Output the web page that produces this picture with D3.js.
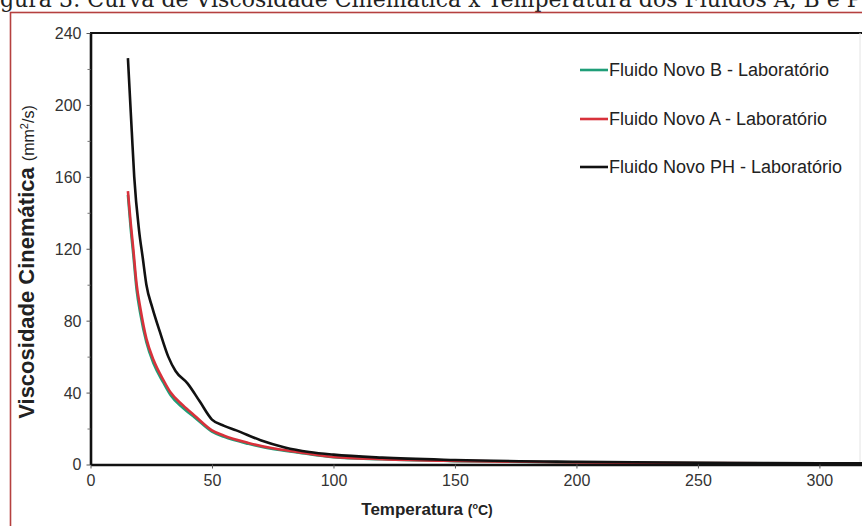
<!DOCTYPE html>
<html><head><meta charset="utf-8">
<script src="https://cdn.jsdelivr.net/npm/d3@7/dist/d3.min.js"></script>
<style>html,body{margin:0;padding:0;background:#fff;overflow:hidden}svg{display:block}</style>
</head><body>
<svg id="c" width="862" height="526"></svg>
<script>
const titleText = "Figura 3: Curva de Viscosidade Cinemática x Temperatura dos Fluidos A, B e PH";
const xTicks = [0, 50, 100, 150, 200, 250, 300];
const yTicks = [0, 40, 80, 120, 160, 200, 240];
const yMinorTicks = [20, 60, 100, 140, 180, 220];
const seriesNames = ["Fluido Novo B - Laboratório", "Fluido Novo A - Laboratório", "Fluido Novo PH - Laboratório"];
const seriesColors = ["#1f9e78", "#d8313b", "#111111"];

const tempB  = [15.4, 16.5, 17.6, 19, 20.5, 23, 26, 30, 33, 38, 43, 50, 55, 65, 75, 85, 100, 120, 150, 200, 250, 300, 320];
const viscB  = [150, 132, 117, 97, 84, 68, 56, 45.5, 38.5, 31.5, 26, 18.3, 15.4, 11.5, 8.6, 6.7, 4.0, 2.9, 1.9, 1.15, 0.75, 0.5, 0.45];
const tempA  = [15.4, 16.5, 17.6, 19, 20.5, 23, 26, 30, 33, 38, 43, 50, 55, 65, 75, 85, 100, 120, 150, 200, 250, 300, 320];
const viscA  = [152, 135, 120, 100, 87, 70, 58, 47, 40, 33, 27, 19, 16, 12, 9, 7, 4.2, 3.0, 2.0, 1.2, 0.8, 0.5, 0.45];
const tempPH = [15.4, 17, 18, 20, 21.5, 23, 25.5, 28.5, 32, 35, 40, 45, 50, 55, 60, 70, 80, 90, 100, 120, 150, 200, 250, 300, 320];
const viscPH = [226, 185, 160, 130, 115, 100, 87, 74, 60, 52, 45, 35, 25, 21.5, 19, 13.5, 9.5, 7, 5.5, 3.8, 2.5, 1.5, 1.0, 0.7, 0.6];

const svg = d3.select("#c");

// page title (clipped at top, as in the document screenshot)
const title = svg.append("text")
  .attr("font-family", "DejaVu Serif")
  .attr("font-size", 20)
  .attr("fill", "#222")
  .attr("y", 7)
  .text(titleText);
const probe = svg.append("text").attr("font-family", "DejaVu Serif").attr("font-size", 20).text("Fi");
const wFi = probe.node().getComputedTextLength();
probe.text(titleText.slice(2, titleText.length - 1));
const wMid = probe.node().getComputedTextLength();
probe.remove();
const fs = 20 * 862 / wMid;
title.attr("font-size", fs).attr("x", -wFi * fs / 20);

// document frame border
svg.append("rect")
  .attr("x", 10.5).attr("y", 12.5).attr("width", 900).attr("height", 600)
  .attr("fill", "none").attr("stroke", "#b5403f").attr("stroke-width", 1.6);

const x = d3.scaleLinear().domain([0, 320]).range([90.5, 868]);
const y = d3.scaleLinear().domain([0, 240]).range([464.5, 33]);

// frame top & right
svg.append("line").attr("x1", 90).attr("x2", 862).attr("y1", y(240)).attr("y2", y(240))
  .attr("stroke", "#111").attr("stroke-width", 2.2);
svg.append("line").attr("x1", 860).attr("x2", 860).attr("y1", y(240)).attr("y2", y(0))
  .attr("stroke", "#e4e4e4").attr("stroke-width", 1);

const line = d3.line().x(d => x(d[0])).y(d => y(d[1])).curve(d3.curveMonotoneX);
const series = [
  d3.zip(tempB, viscB),
  d3.zip(tempA, viscA),
  d3.zip(tempPH, viscPH)
];
series.forEach((s, i) => {
  svg.append("path").datum(s).attr("d", line)
    .attr("fill", "none").attr("stroke", seriesColors[i])
    .attr("stroke-width", 2.6).attr("stroke-linejoin", "round");
});

// axes
const xAxis = d3.axisBottom(x).tickValues(xTicks).tickSize(4).tickPadding(6).tickSizeOuter(0);
const gx = svg.append("g").attr("transform", `translate(0,${y(0)})`).call(xAxis);
gx.select(".domain").attr("stroke", "#111").attr("stroke-width", 2.6);
gx.selectAll(".tick line").attr("stroke", "#555").attr("stroke-width", 1);
gx.selectAll(".tick text").attr("font-family", "Liberation Sans, Arial, sans-serif")
  .attr("font-size", 16).attr("fill", "#333");

const yAxis = d3.axisLeft(y).tickValues(yTicks).tickSize(4).tickPadding(5).tickSizeOuter(0);
const gy = svg.append("g").attr("transform", `translate(${x(0)},0)`).call(yAxis);
gy.select(".domain").attr("stroke", "#111").attr("stroke-width", 2.6);
gy.selectAll(".tick line").attr("stroke", "#555").attr("stroke-width", 1);
gy.selectAll(".tick text").attr("font-family", "Liberation Sans, Arial, sans-serif")
  .attr("font-size", 16).attr("fill", "#333").attr("dy", "0.34em");

const gyMinor = svg.append("g").attr("transform", `translate(${x(0)},0)`)
  .call(d3.axisLeft(y).tickValues(yMinorTicks).tickSize(3).tickFormat(""));
gyMinor.select(".domain").remove();
gyMinor.selectAll(".tick line").attr("stroke", "#777");

// axis titles
const yt = svg.append("text")
  .attr("transform", `translate(34,${262}) rotate(-90)`)
  .attr("text-anchor", "middle")
  .attr("font-family", "Liberation Sans, Arial, sans-serif")
  .attr("fill", "#222");
yt.append("tspan").attr("font-weight", "bold").attr("font-size", 22).text("Viscosidade Cinemática ");
yt.append("tspan").attr("font-size", 16).text("(mm");
yt.append("tspan").attr("font-size", 11).attr("dy", -6).text("2");
yt.append("tspan").attr("font-size", 16).attr("dy", 6).text("/s)");

const xt = svg.append("text")
  .attr("x", 427).attr("y", 515)
  .attr("text-anchor", "middle")
  .attr("font-family", "Liberation Sans, Arial, sans-serif")
  .attr("font-weight", "bold")
  .attr("fill", "#222");
xt.append("tspan").attr("font-size", 17).text("Temperatura ");
xt.append("tspan").attr("font-size", 14).text("(");
xt.append("tspan").attr("font-size", 9).attr("dy", -6).text("o");
xt.append("tspan").attr("font-size", 14).attr("dy", 6).text("C)");

// legend
const legendY = [70, 119, 167];
const lg = svg.append("g");
seriesNames.forEach((n, i) => {
  lg.append("line").attr("x1", 580).attr("x2", 608).attr("y1", legendY[i]).attr("y2", legendY[i])
    .attr("stroke", seriesColors[i]).attr("stroke-width", 2.6);
  lg.append("text").attr("x", 609).attr("y", legendY[i]).attr("dy", "0.35em")
    .attr("font-family", "Liberation Sans, Arial, sans-serif").attr("font-size", 18)
    .attr("fill", "#222").text(n);
});
</script>
</body></html>
